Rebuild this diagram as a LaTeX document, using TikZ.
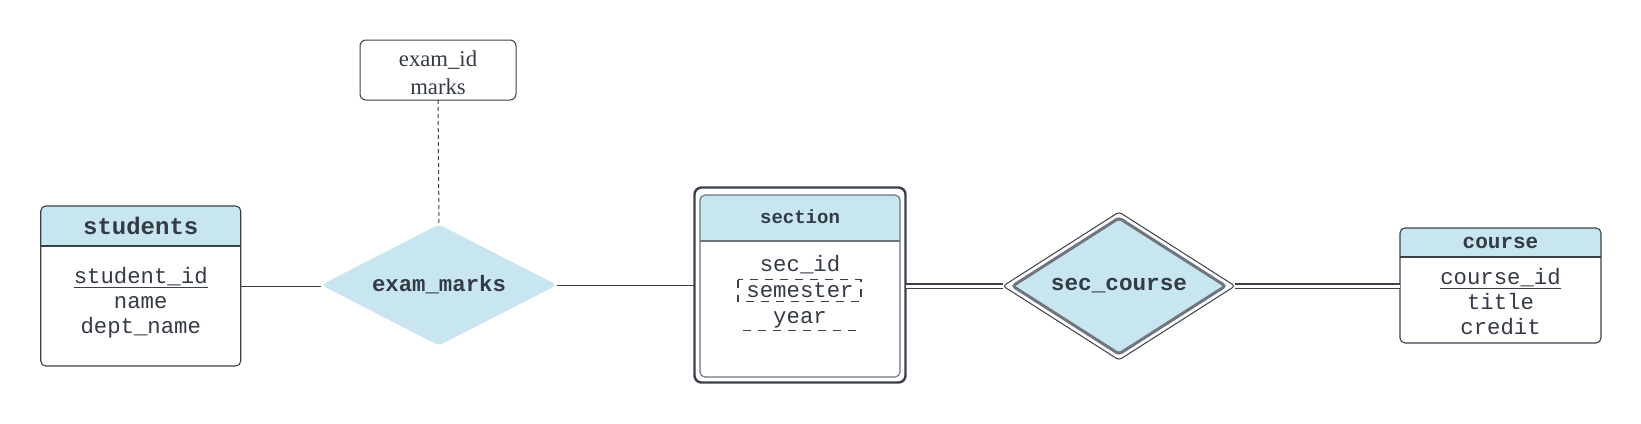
\documentclass[tikz,border=0pt]{standalone}
\usepackage{fontspec}
\setmonofont{Liberation Mono}
\newfontfamily\attrserif{Liberation Serif}
\usetikzlibrary{shapes.geometric}
\definecolor{hdr}{HTML}{C7E6EF}
\definecolor{edge}{HTML}{3A414B}
\definecolor{txt}{HTML}{343B45}
\definecolor{dgray}{HTML}{6F767F}
\newcommand\erentity[7]{%
  \node[minimum width=#3, minimum height=#4] (#1) at (#2) {};
  \begin{scope}
    \clip (#1.north west) rectangle ([yshift=-#5]#1.north east);
    \fill[hdr, rounded corners=#6] (#1.north west) rectangle (#1.south east);
  \end{scope}
  \draw[#7] ([yshift=-#5]#1.north west) -- ([yshift=-#5]#1.north east);
  \draw[#7, rounded corners=#6] (#1.north west) rectangle (#1.south east);
}
\begin{document}
\begin{tikzpicture}[x=1pt,y=-1pt,
  every node/.style={inner sep=0pt, outer sep=0pt},
  boxline/.style={draw=edge, line width=1.1pt},
  innerline/.style={draw=dgray, line width=1.2pt},
  hfont/.style={font=\ttfamily\bfseries\fontsize{#1}{#1}\selectfont, text=txt, anchor=base},
  atxt/.style={font=\ttfamily\fontsize{22.3}{25}\selectfont, text=txt, anchor=base},
  conn/.style={draw=edge, line width=1pt},
  dbl/.style={draw=edge, line width=1.8pt, double=white, double distance=3pt},
  keyline/.style={draw=edge, line width=1pt},
  partkey/.style={draw=edge, line width=1.6pt, dash pattern=on 8pt off 7pt},
]
\useasboundingbox[fill=white] (0,0) rectangle (1641,423);

% students
\erentity{students}{140.75,286}{200pt}{160pt}{40pt}{5pt}{boxline}
\node[hfont=24] (studentsT) at (140.75,234) {students};
\node[atxt] (sid) at (140.75,283) {student\_id};
\node[atxt] (sname) at (140.75,308.3) {name};
\node[atxt] (sdept) at (140.75,333.3) {dept\_name};
\draw[keyline] ([yshift=-4.5pt]sid.base west) -- ([yshift=-4.5pt]sid.base east);

% exam_marks relationship
\node[diamond, aspect=2, minimum width=236pt, minimum height=121pt, fill=hdr,
  rounded corners=5pt, text=txt, font=\ttfamily\bfseries\fontsize{22.3}{24}\selectfont]
  (exammarks) at (439,285) {exam\_marks};

% relationship attributes
\node[draw=edge, line width=1pt, rounded corners=6pt, minimum width=156pt, minimum height=60pt]
  (exattr) at (438,70) {};
\node[align=center, text=txt, font=\attrserif\fontsize{22.7}{28}\selectfont]
  (exattrT) at (438,72.5) {exam\_id\\marks};

% section (weak entity)
\node[draw=edge, line width=2.4pt, rounded corners=7pt, minimum width=211pt, minimum height=195pt]
  (sectionO) at (800,285) {};
\erentity{section}{800,286}{200pt}{182pt}{46pt}{5pt}{innerline}
\node[hfont=19] (sectionT) at (800,223.3) {section};
\node[atxt] (secid) at (800,271) {sec\_id};
\node[atxt] (sem) at (800,297.5) {semester};
\node[atxt] (yr) at (800,323) {year};
\draw[partkey] (738,279.5) rectangle (861,301.5);
\draw[partkey] (743,330.5) -- (861,330.5);

% sec_course identifying relationship
\node[diamond, aspect=2, minimum width=232pt, minimum height=148pt, draw=edge, line width=1pt,
  fill=white, rounded corners=3pt] (seccourseO) at (1119,286) {};
\node[diamond, aspect=2, minimum width=213pt, minimum height=136pt, draw=dgray, line width=3pt,
  fill=hdr, rounded corners=3pt, text=txt, font=\ttfamily\bfseries\fontsize{22.7}{24}\selectfont]
  (seccourse) at (1119,286) {sec\_course};

% course
\erentity{course}{1500.5,285.5}{201pt}{115pt}{29pt}{5pt}{boxline}
\node[hfont=21] (courseT) at (1500.5,248) {course};
\node[atxt] (cid) at (1500.5,284) {course\_id};
\node[atxt] (ctitle) at (1500.5,309) {title};
\node[atxt] (ccredit) at (1500.5,334) {credit};
\draw[keyline] ([yshift=-4.5pt]cid.base west) -- ([yshift=-4.5pt]cid.base east);

% connectors
\draw[conn] (students.east) -- (students.east -| exammarks.west);
\draw[conn] (exammarks.east) -- (exammarks.east -| sectionO.west);
\draw[conn, dash pattern=on 4pt off 3pt] (exattr.south) -- (exammarks.north);
\draw[dbl] (sectionO.east |- seccourseO.west) -- (seccourseO.west);
\draw[dbl] (seccourseO.east) -- (seccourseO.east -| course.west);
\end{tikzpicture}
\end{document}
